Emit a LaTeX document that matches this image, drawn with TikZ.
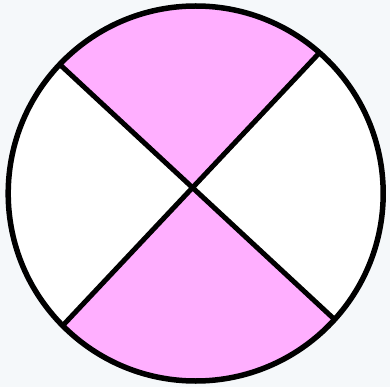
\documentclass[tikz,border=0pt]{standalone}
\usetikzlibrary{calc}
\definecolor{bgc}{HTML}{F5F8FA}
\definecolor{pinkc}{HTML}{FFAFFF}
\tikzset{outline/.style={draw=black,line width=5.5pt},
  divider/.style={draw=black,line width=5pt,line cap=butt}}
\begin{document}
\begin{tikzpicture}[x=1pt,y=-1pt]
\fill[bgc] (0,0) rectangle (390,387);
\useasboundingbox (0,0) rectangle (390,387);
\coordinate (O) at (195.7,193.5);
\coordinate (C) at (190.5,188.8);
\coordinate (TL) at (59.3,64);
\coordinate (TR) at (318.3,54);
\coordinate (BL) at (63.3,325);
\coordinate (BR) at (333.3,318.3);
\begin{scope}
\clip (O) circle (187.5);
\fill[white] (0,0) rectangle (390,387);
\fill[pinkc] (C) -- ($(C)!1.6!(TL)$) -- (195,-100) -- ($(C)!1.6!(TR)$) -- cycle;
\fill[pinkc] (C) -- ($(C)!1.6!(BL)$) -- (195,500) -- ($(C)!1.6!(BR)$) -- cycle;
\end{scope}
\draw[divider] (TL) -- (BR);
\draw[divider] (TR) -- (BL);
\draw[outline] (O) circle (187.5);
\end{tikzpicture}
\end{document}
